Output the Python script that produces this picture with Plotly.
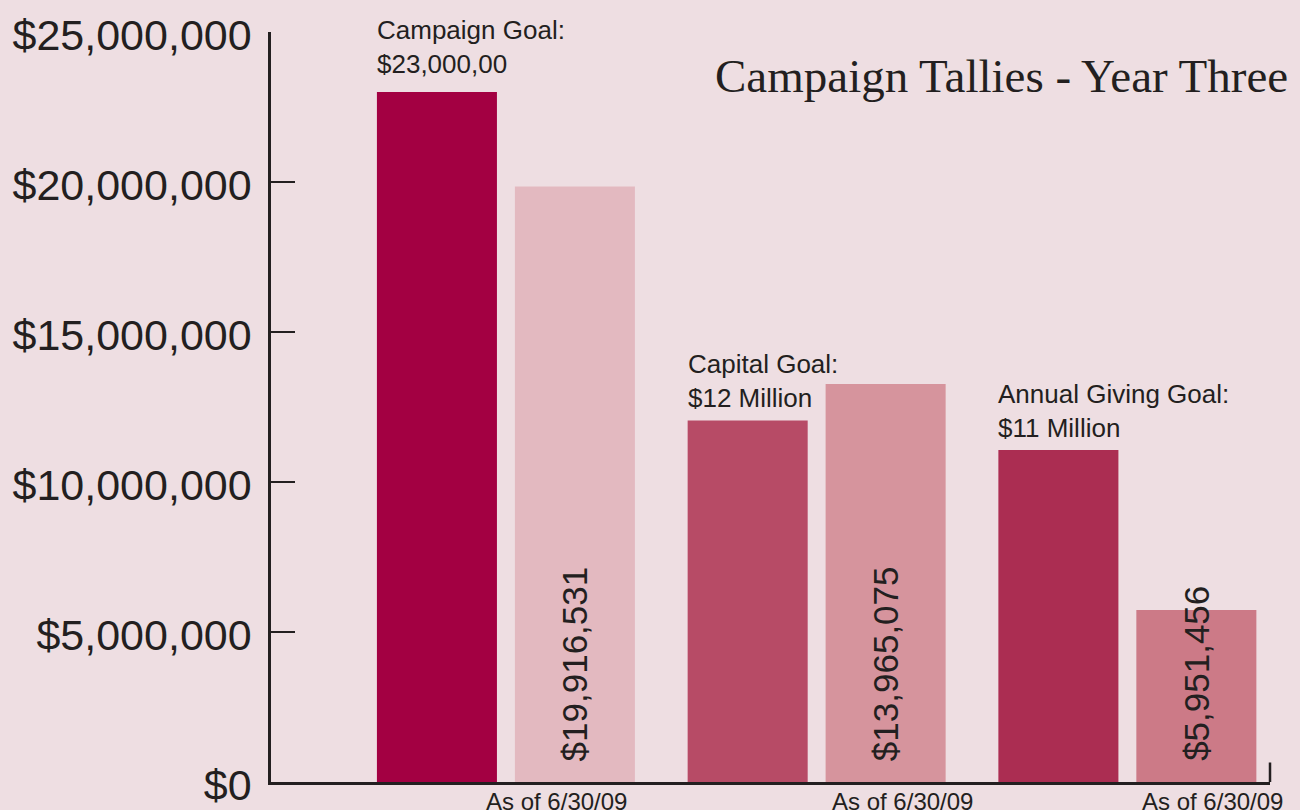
import plotly.graph_objects as go

# ---- data ----
groups = ["Campaign", "Capital", "Annual Giving"]
group_pos = [0, 1, 2]
goal_values = [23_000_000, 12_050_000, 11_070_000]
raised_values = [19_850_000, 13_270_000, 5_730_000]
raised_labels = ["$19,916,531", "$13,965,075", "$5,951,456"]
goal_labels = ["Campaign Goal:<br>$23,000,00", "Capital Goal:<br>$12 Million",
               "Annual Giving Goal:<br>$11 Million"]
date_labels = ["As of 6/30/09", "As of 6/30/09", "As of 6/30/09"]
y_ticks = [0, 5_000_000, 10_000_000, 15_000_000, 20_000_000, 25_000_000]
y_tick_text = ["$0", "$5,000,000", "$10,000,000", "$15,000,000",
               "$20,000,000", "$25,000,000"]
title_text = "Campaign Tallies - Year Three"

goal_colors = ["#a30042", "#b74b66", "#ab2d52"]
raised_colors = ["#e3b9c0", "#d6949d", "#cc7a87"]
INK = "#231f20"
BG = "#eedee2"

goal_label_yshift = [11, 6, 5]
date_label_xshift = [51, 86, 85]

fig = go.Figure()
fig.add_trace(go.Bar(x=group_pos, y=goal_values, name="Goal",
                     marker=dict(color=goal_colors, line=dict(width=0)),
                     hoverinfo="skip"))
fig.add_trace(go.Bar(x=group_pos, y=raised_values, name="Raised",
                     marker=dict(color=raised_colors, line=dict(width=0)),
                     hoverinfo="skip"))

annotations = []
for i, p in enumerate(group_pos):
    annotations.append(dict(x=p, y=goal_values[i], xref="x", yref="y",
                            text=goal_labels[i], showarrow=False,
                            xanchor="left", yanchor="bottom", align="left",
                            xshift=-131, yshift=goal_label_yshift[i],
                            font=dict(family="Liberation Sans", size=26, color=INK)))
    annotations.append(dict(x=p, y=0, xref="x", yref="y",
                            text=raised_labels[i], showarrow=False,
                            textangle=-90, xanchor="center", yanchor="bottom",
                            xshift=69, yshift=19,
                            font=dict(family="Liberation Sans", size=35, color=INK)))
    annotations.append(dict(x=p, y=0, xref="x", yref="paper",
                            text=date_labels[i], showarrow=False,
                            xanchor="center", yanchor="top",
                            xshift=date_label_xshift[i], yshift=-4,
                            font=dict(family="Liberation Sans", size=24, color=INK)))

annotations.append(dict(x=1.02, y=0.941, xref="paper", yref="paper",
                        text=title_text, showarrow=False,
                        xanchor="right", yanchor="middle",
                        font=dict(family="Liberation Serif", size=47, color=INK)))

fig.update_layout(
    width=1300, height=810,
    margin=dict(l=271, r=30, t=32, b=28, autoexpand=False),
    paper_bgcolor=BG, plot_bgcolor=BG,
    barmode="group", bargap=0.112, bargroupgap=0.13,
    showlegend=False,
    annotations=annotations,
    shapes=[dict(type="line", xref="paper", yref="paper",
                 x0=1, x1=1, y0=0, y1=0.026,
                 line=dict(color=INK, width=2.5))],
    xaxis=dict(range=[-0.756, 2.459], showticklabels=False, ticks="",
               showgrid=False, zeroline=False, showline=True, automargin=False,
               linecolor=INK, linewidth=2.5, fixedrange=True),
    yaxis=dict(range=[0, 25_000_000], tickvals=y_ticks, ticktext=y_tick_text,
               ticks="inside", ticklen=24, tickwidth=2, automargin=False,
               tickcolor=INK, showgrid=False, zeroline=False, showline=True,
               linecolor=INK, linewidth=2.5, ticklabelstandoff=8,
               ticklabelshift=3,
               tickfont=dict(family="Liberation Sans", size=43, color=INK),
               fixedrange=True),
)

fig.write_html("out.html", config={"displayModeBar": False},
               post_script="document.body.style.margin='0';"
                           "document.body.style.overflow='hidden';"
                           "document.documentElement.style.overflow='hidden';")
